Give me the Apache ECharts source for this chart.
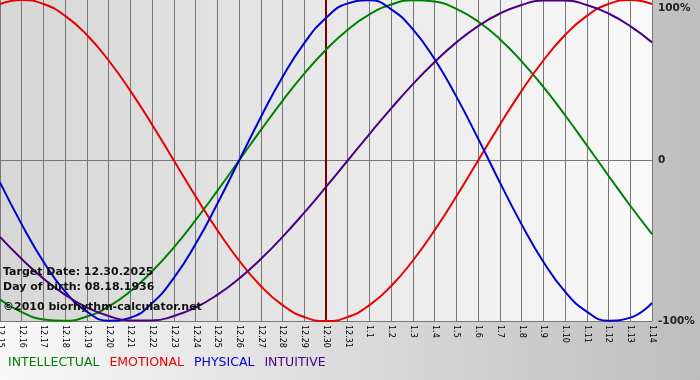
<!DOCTYPE html>
<html>
<head>
<meta charset="utf-8">
<script src="https://cdn.jsdelivr.net/npm/echarts@6/dist/echarts.min.js"></script>
<style>html,body{margin:0;padding:0;background:#fff}#c{width:700px;height:380px}</style>
</head>
<body>
<div id="c"></div>
<script>
// Dates shown on the x axis (12.15 .. 1.14)
const categories = ['12.15','12.16','12.17','12.18','12.19','12.20','12.21','12.22','12.23','12.24','12.25','12.26','12.27','12.28','12.29','12.30','12.31','1.1','1.2','1.3','1.4','1.5','1.6','1.7','1.8','1.9','1.10','1.11','1.12','1.13','1.14'];
// Biorhythm values in percent
const intellectual = [-86.6,-94.5,-99.0,-99.9,-97.2,-91.0,-81.5,-69.0,-54.1,-37.2,-18.9,0,18.9,37.2,54.1,69.0,81.5,91.0,97.2,99.9,99.0,94.5,86.6,75.6,61.8,45.8,28.2,9.5,-9.5,-28.2,-45.8];
const emotional = [97.5,100,97.5,90.1,78.2,62.3,43.4,22.3,0,-22.3,-43.4,-62.3,-78.2,-90.1,-97.5,-100,-97.5,-90.1,-78.2,-62.3,-43.4,-22.3,0,22.3,43.4,62.3,78.2,90.1,97.5,100,97.5];
const physical = [-13.6,-39.8,-63.1,-81.7,-94.2,-99.8,-97.9,-88.8,-73.1,-52.0,-27.0,0,27.0,52.0,73.1,88.8,97.9,99.8,94.2,81.7,63.1,39.8,13.6,-13.6,-39.8,-63.1,-81.7,-94.2,-99.8,-97.9,-88.8];
const intuitive = [-47.6,-61.4,-73.6,-83.7,-91.6,-96.9,-99.7,-99.7,-96.9,-91.6,-83.7,-73.6,-61.4,-47.6,-32.5,-16.5,0,16.5,32.5,47.6,61.4,73.6,83.7,91.6,96.9,99.7,99.7,96.9,91.6,83.7,73.6];
const seriesNames = ['INTELLECTUAL','EMOTIONAL','PHYSICAL','INTUITIVE'];
const seriesColors = ['#008000','#e60000','#0000d0','#4b0082'];
const yTickValues = [-100, 0, 100];
const yTickLabels = ['-100%', '0', '100%'];
const targetDate = '12.30';
const infoLines = ['Target Date: 12.30.2025', 'Day of birth: 08.18.1936', '\u00a92010 biorhythm-calculator.net'];

const chart = echarts.init(document.getElementById('c'), null, {renderer: 'canvas'});
const dataArr = [intellectual, emotional, physical, intuitive];
const FONT = 'DejaVu Sans, Verdana, sans-serif';

const series = seriesNames.map((n, i) => ({
  name: n, type: 'line', data: dataArr[i], smooth: true, symbol: 'none',
  lineStyle: {color: seriesColors[i], width: 2}, itemStyle: {color: seriesColors[i]},
  z: 3
}));
series.push({
  name: 'target', type: 'line', data: [], symbol: 'none',
  markLine: {
    silent: true, symbol: ['none','none'], label: {show: false},
    lineStyle: {color: '#7a0000', width: 2, type: 'solid'},
    data: [{xAxis: targetDate}], z: 2
  }
});

chart.setOption({
  animation: false,
  backgroundColor: {type: 'linear', x: 0, y: 0, x2: 1, y2: 0, colorStops: [{offset: 0, color: '#f8f8f8'}, {offset: 1, color: '#bebebe'}]},
  grid: {left: 0, right: 48, top: 0, bottom: 59, show: true, borderWidth: 0, outerBoundsMode: 'none', containLabel: false,
    backgroundColor: {type: 'linear', x: 0, y: 0, x2: 1, y2: 0, colorStops: [{offset: 0, color: '#d6d6d6'}, {offset: 1, color: '#f9f9f9'}]}},
  legend: {
    left: 3, top: 356, padding: 0, itemWidth: 0, itemHeight: 0, itemGap: 5,
    selectedMode: false,
    data: seriesNames.map((n, i) => ({name: n, icon: 'none', textStyle: {color: seriesColors[i]}})),
    textStyle: {fontFamily: FONT, fontSize: 12.5, fontWeight: 500}
  },
  xAxis: {
    type: 'category', data: categories, boundaryGap: false,
    axisLine: {show: true, lineStyle: {color: '#777', width: 1}},
    axisTick: {show: true, length: 4, interval: 0, lineStyle: {color: '#777'}},
    splitLine: {show: true, interval: 0, lineStyle: {color: '#777', width: 1}},
    axisLabel: {interval: 0, rotate: -90, margin: 4, color: '#000', fontFamily: FONT, fontSize: 8}
  },
  yAxis: {
    type: 'value', position: 'right', min: -100, max: 100, interval: 100,
    axisLine: {show: false}, axisTick: {show: false},
    splitLine: {show: true, lineStyle: {color: ['#777', '#777', 'rgba(0,0,0,0)'], width: 1}},
    axisLabel: {
      margin: 6, color: '#222', fontFamily: FONT, fontSize: 10.5, fontWeight: 'bold',
      formatter: v => {
        const idx = yTickValues.indexOf(v);
        const t = idx >= 0 ? yTickLabels[idx] : '';
        return v === 100 ? '{top|' + t + '}' : t;
      },
      rich: {top: {padding: [16, 0, 0, 0], color: '#222', fontFamily: FONT, fontSize: 10.5, fontWeight: 'bold'}}
    }
  },
  graphic: infoLines.map((t, i) => ({
    type: 'text', left: 3, top: [267, 282, 302][i], z: 10,
    style: {text: t, fill: '#111', font: 'bold 11px ' + FONT}
  })),
  series: series
});
</script>
</body>
</html>
